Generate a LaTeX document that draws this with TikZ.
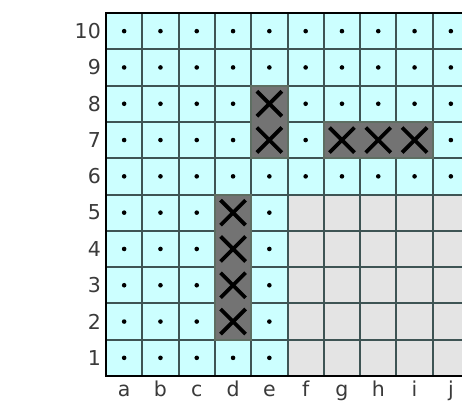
\documentclass[tikz,border=0pt]{standalone}
\usepackage{fontspec}
\setmainfont{DejaVu Sans}
\definecolor{cellcyan}{HTML}{CCFFFF}
\definecolor{cellgrey}{HTML}{E4E4E4}
\definecolor{celldark}{HTML}{737373}
\definecolor{gridline}{HTML}{3E5454}
\definecolor{darkedge}{HTML}{5E6E62}
\definecolor{labelgrey}{HTML}{3A3A3A}
\tikzset{
  gridstroke/.style={draw=gridline,line width=2pt},
  darkblock/.style={fill=celldark,draw=darkedge,line width=2pt},
  xmark/.style={line width=3.8pt,black},
  lbl/.style={font=\fontsize{20.5}{20.5}\selectfont,text=labelgrey,inner sep=0pt},
  dotmark/.style={fill=black,draw=none}
}
\begin{document}
\begin{tikzpicture}[x=1pt,y=-1pt]
\useasboundingbox (0,0) rectangle (462,401);
\clip (0,0) rectangle (462,401);
\def\L{106}\def\T{13}\def\C{36.3}
% backgrounds
\fill[cellcyan] (\L,\T) rectangle ({\L+10*\C},{\T+10*\C});
\fill[cellgrey] ({\L+5*\C},{\T+5*\C}) rectangle ({\L+10*\C},{\T+10*\C});
% dots
\foreach \k in {0,...,9}{
  \foreach \i in {0,...,9}{
    \pgfmathtruncatemacro{\skip}{(\k>=5 && \i>=5) ? 1 : 0}
    \ifnum\skip=0
      \fill[dotmark] ({\L+(\k+0.5)*\C},{\T+(\i+0.5)*\C}) circle (2.3);
    \fi
  }
}
% grid lines
\foreach \k in {1,...,9}{
  \draw[gridstroke] ({\L+\k*\C},\T) -- ({\L+\k*\C},{\T+10*\C});
  \draw[gridstroke] (\L,{\T+\k*\C}) -- ({\L+10*\C},{\T+\k*\C});
}
% dark blocks
\draw[darkblock] ({\L+4*\C},{\T+2*\C}) rectangle ({\L+5*\C},{\T+4*\C});
\draw[darkblock] ({\L+6*\C},{\T+3*\C}) rectangle ({\L+9*\C},{\T+4*\C});
\draw[darkblock] ({\L+3*\C},{\T+5*\C}) rectangle ({\L+4*\C},{\T+9*\C});
% X marks
\foreach \k/\i in {4/2,4/3,6/3,7/3,8/3,3/5,3/6,3/7,3/8}{
  \draw[xmark] ({\L+(\k+0.5)*\C-12.5},{\T+(\i+0.5)*\C-12.5}) -- ({\L+(\k+0.5)*\C+12.5},{\T+(\i+0.5)*\C+12.5});
  \draw[xmark] ({\L+(\k+0.5)*\C-12.5},{\T+(\i+0.5)*\C+12.5}) -- ({\L+(\k+0.5)*\C+12.5},{\T+(\i+0.5)*\C-12.5});
}
% outer border
\draw[black,line width=2.6pt] (\L,\T) rectangle ({\L+10*\C},{\T+10*\C});
% row labels
\foreach \r [count=\n from 0] in {10,9,8,7,6,5,4,3,2,1}{
  \node[lbl,anchor=east] (row\r) at (101,{\T+(\n+0.5)*\C}) {\r};
}
% column labels
\foreach \c [count=\n from 0] in {a,b,c,d,e,f,g,h,i,j}{
  \node[lbl,anchor=base] (col\c) at ({\L+(\n+0.5)*\C},396.5) {\c};
}
\end{tikzpicture}
\end{document}
